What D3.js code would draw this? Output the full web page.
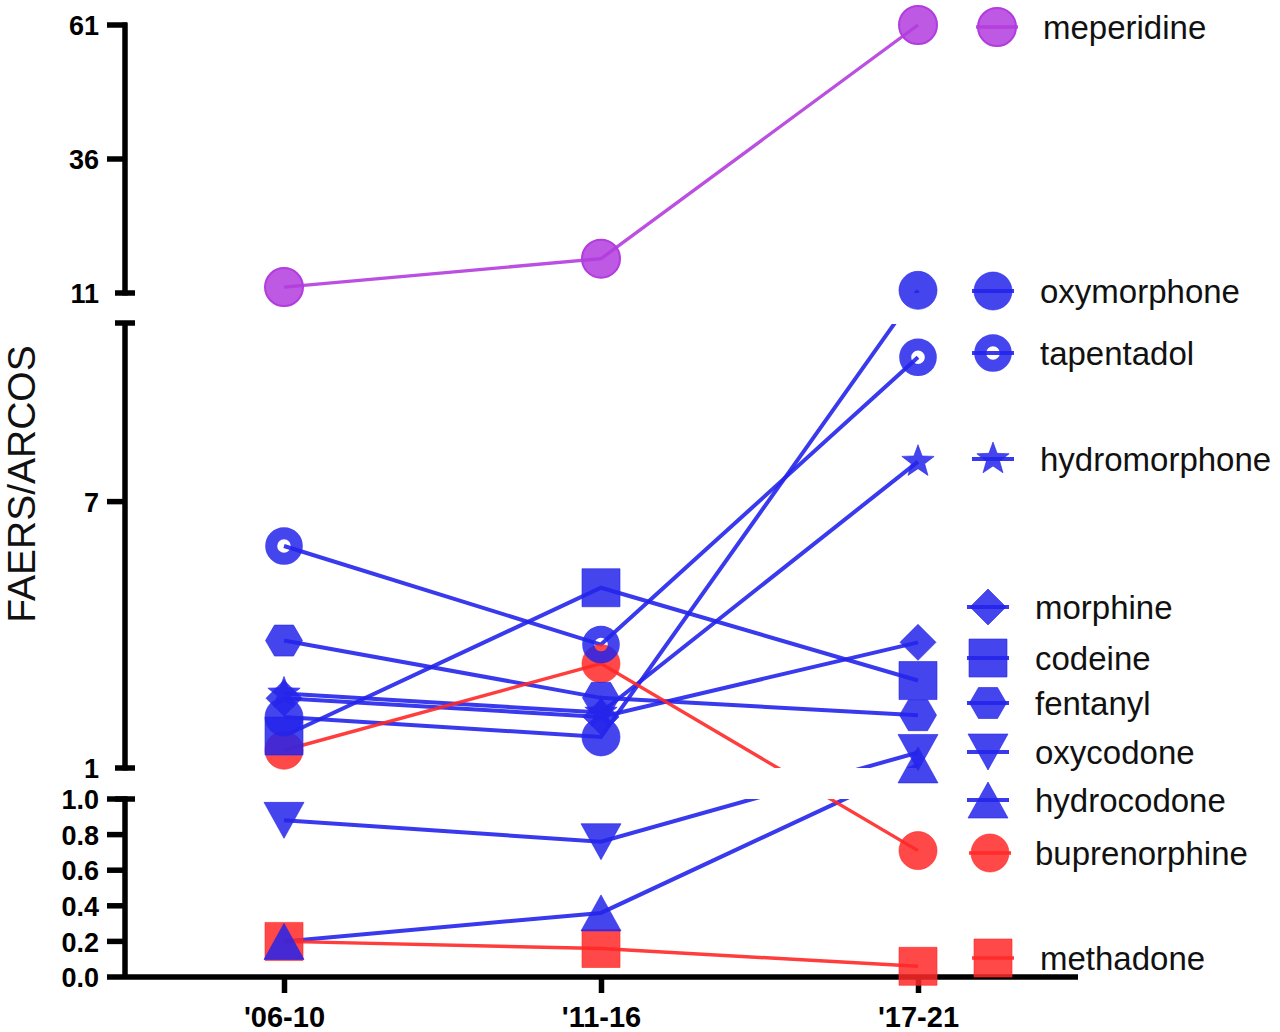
<!DOCTYPE html>
<html><head><meta charset="utf-8">
<script src="https://cdn.jsdelivr.net/npm/d3@7"></script>
<style>html,body{margin:0;padding:0;background:#fff;}svg{display:block;}</style>
</head><body>
<svg id="chart" width="1280" height="1032"></svg>
<script>
// ---------- data ----------
const categories = ["'06-10", "'11-16", "'17-21"];
const meperidine    = [12.1, 17.4, 61];
const oxymorphone   = [2.15, 1.7, 11.5];
const tapentadol    = [6.0, 3.78, 10.25];
const hydromorphone = [2.68, 2.25, 7.9];
const morphine      = [2.57, 2.15, 3.83];
const codeine       = [1.72, 5.06, 2.97];
const fentanyl      = [3.87, 2.58, 2.19];
const oxycodone     = [0.88, 0.76, 1.35];
const hydrocodone   = [0.2, 0.36, 1.07];
const buprenorphine = [1.4, 3.35, 0.71];
const methadone     = [0.2, 0.16, 0.06];
const topTicks = [11, 36, 61];
const midTicks = [1, 7];
const botTicks = [0, 0.2, 0.4, 0.6, 0.8, 1.0];

const BLUE = "rgb(36,36,235)", RED = "rgb(255,40,40)", PURPLE = "rgb(178,60,222)";
const series = [
  {name:"meperidine", values:meperidine, color:PURPLE, shape:"circle", lx:997, ly:27, tx:1043},
  {name:"oxymorphone", values:oxymorphone, color:BLUE, shape:"circle", lx:993, ly:291, tx:1040},
  {name:"tapentadol", values:tapentadol, color:BLUE, shape:"ring", lx:993, ly:353, tx:1040},
  {name:"hydromorphone", values:hydromorphone, color:BLUE, shape:"star", lx:993, ly:459, tx:1040},
  {name:"morphine", values:morphine, color:BLUE, shape:"diamond", lx:988, ly:607, tx:1035},
  {name:"codeine", values:codeine, color:BLUE, shape:"square", lx:988, ly:658, tx:1035},
  {name:"fentanyl", values:fentanyl, color:BLUE, shape:"hexagon", lx:988, ly:703, tx:1035},
  {name:"oxycodone", values:oxycodone, color:BLUE, shape:"tridown", lx:988, ly:752, tx:1035},
  {name:"hydrocodone", values:hydrocodone, color:BLUE, shape:"triup", lx:988, ly:800, tx:1035},
  {name:"buprenorphine", values:buprenorphine, color:RED, shape:"circle", lx:990, ly:853, tx:1035},
  {name:"methadone", values:methadone, color:RED, shape:"square", lx:993, ly:958, tx:1040}
];

// ---------- scales ----------
const x = d3.scalePoint().domain(categories).range([284, 918]);
const yTop = d3.scaleLinear().domain([11, 61]).range([293, 25]);
const yMid = d3.scaleLinear().domain([1, 11]).range([768, 324]);
const yBot = d3.scaleLinear().domain([0, 1]).range([977, 799]);
function yPos(v){ return v > 11 ? yTop(v) : (v >= 1 ? yMid(v) : yBot(v)); }

const svg = d3.select("#chart");
const AX = 125;
const labelFont = "'Liberation Sans', Arial, sans-serif";

// ---------- shapes ----------
function shapePath(shape){
  const p = d3.path();
  if (shape === "circle") { p.arc(0,0,19,0,2*Math.PI); p.closePath(); }
  else if (shape === "square") { p.rect(-19,-19,38,38); }
  else if (shape === "diamond") { p.moveTo(0,-18); p.lineTo(18,0); p.lineTo(0,18); p.lineTo(-18,0); p.closePath(); }
  else if (shape === "hexagon") { p.moveTo(-18.5,0); p.lineTo(-9.5,-15.5); p.lineTo(9.5,-15.5); p.lineTo(18.5,0); p.lineTo(9.5,15.5); p.lineTo(-9.5,15.5); p.closePath(); }
  else if (shape === "triup") { p.moveTo(0,-18); p.lineTo(20,18); p.lineTo(-20,18); p.closePath(); }
  else if (shape === "tridown") { p.moveTo(0,18); p.lineTo(20,-18); p.lineTo(-20,-18); p.closePath(); }
  else if (shape === "star") {
    for (let i = 0; i < 10; i++) {
      const r = i % 2 === 0 ? 17 : 7;
      const a = -Math.PI/2 + i*Math.PI/5;
      if (i === 0) p.moveTo(r*Math.cos(a), r*Math.sin(a)); else p.lineTo(r*Math.cos(a), r*Math.sin(a));
    }
    p.closePath();
  }
  return p.toString();
}
function drawMarker(g, s, cx, cy){
  if (s.shape === "ring") {
    g.append("circle").attr("cx",cx).attr("cy",cy).attr("r",12.8)
      .attr("fill","none").attr("stroke",s.color).attr("stroke-opacity",0.85).attr("stroke-width",12);
  } else {
    g.append("path").attr("d",shapePath(s.shape)).attr("transform",`translate(${cx},${cy})`)
      .attr("fill",s.color).attr("fill-opacity",0.85)
      .attr("stroke",s.color).attr("stroke-opacity", s.color===PURPLE?1:0.6).attr("stroke-width", s.color===PURPLE?2:1);
  }
}

// ---------- axes ----------
const axG = svg.append("g");
function panelAxis(scale, ticks, y0, y1){
  const g = axG.append("g").attr("transform",`translate(${AX},0)`)
    .call(d3.axisLeft(scale).tickValues(ticks).tickSize(0).tickSizeOuter(0)
      .tickFormat(d => (ticks === botTicks ? d3.format(".1f")(d) : d)).tickPadding(26));
  g.select(".domain").remove();
  g.selectAll("text").attr("font-family",labelFont).attr("font-weight","bold").attr("font-size",27).attr("fill","#000").attr("dy","0.36em");
  axG.append("line").attr("x1",AX).attr("x2",AX).attr("y1",y0).attr("y2",y1).attr("stroke","#000").attr("stroke-width",5.5);
}
panelAxis(yTop, topTicks, yTop(61)-2.5, yTop(11)+2.5);
panelAxis(yMid, midTicks, yMid(11)-3, yMid(1)+2.5);
panelAxis(yBot, botTicks, yBot(1)-2.5, yBot(0));
// ticks (left side)
const tickList = [[yTop,61],[yTop,36],[yMid,7],[yBot,1],[yBot,0.8],[yBot,0.6],[yBot,0.4],[yBot,0.2]];
tickList.forEach(([sc,v]) => axG.append("line").attr("x1",107).attr("x2",AX+2).attr("y1",sc(v)).attr("y2",sc(v)).attr("stroke","#000").attr("stroke-width",5.5));
// break caps
[yTop(11), yMid(11)-1, yMid(1), yBot(1)].forEach(yy => axG.append("line").attr("x1",115).attr("x2",135).attr("y1",yy).attr("y2",yy).attr("stroke","#000").attr("stroke-width",5.5));
// x axis
axG.append("line").attr("x1",107).attr("x2",1078).attr("y1",yBot(0)).attr("y2",yBot(0)).attr("stroke","#000").attr("stroke-width",5.5);
const xg = axG.append("g").attr("transform",`translate(0,${yBot(0)})`)
  .call(d3.axisBottom(x).tickSize(16).tickSizeOuter(0).tickPadding(13));
xg.select(".domain").remove();
xg.selectAll(".tick line").attr("stroke","#000").attr("stroke-width",5.5);
xg.selectAll("text").attr("font-family",labelFont).attr("font-weight","bold").attr("font-size",29).attr("fill","#000");

// y title
svg.append("text").attr("transform","translate(35,484) rotate(-90)").attr("text-anchor","middle")
  .attr("font-family",labelFont).attr("font-size",39).attr("fill","#111").text("FAERS/ARCOS");

// ---------- clip for lines ----------
const defs = svg.append("defs");
const cp = defs.append("clipPath").attr("id","panels");
cp.append("rect").attr("x",0).attr("y",0).attr("width",1280).attr("height",yTop(11));
cp.append("rect").attr("x",0).attr("y",yMid(11)).attr("width",1280).attr("height",yMid(1)-yMid(11));
cp.append("rect").attr("x",0).attr("y",yBot(1)).attr("width",1280).attr("height",1032-yBot(1));

// ---------- data lines & markers ----------
const line = d3.line().x((d,i) => x(categories[i])).y(d => yPos(d));
const dataG = svg.append("g");
series.forEach(s => {
  dataG.append("path").attr("d", line(s.values)).attr("clip-path","url(#panels)")
    .attr("fill","none").attr("stroke", s.color).attr("stroke-opacity",0.9)
    .attr("stroke-width", s.color===BLUE?4:3.4);
});
series.slice().reverse().forEach(s => {
  s.values.forEach((v,i) => drawMarker(dataG, s, x(categories[i]), yPos(v)));
});

// ---------- legend ----------
const lg = svg.append("g");
series.forEach(s => {
  drawMarker(lg, s, s.lx, s.ly);
  lg.append("line").attr("x1",s.lx-21).attr("x2",s.lx+21).attr("y1",s.ly).attr("y2",s.ly)
    .attr("stroke",s.color).attr("stroke-opacity",0.9).attr("stroke-width", s.color===BLUE?4:3.4);
  lg.append("text").attr("x",s.tx).attr("y",s.ly).attr("dy","0.36em")
    .attr("font-family",labelFont).attr("font-size",33).attr("fill","#111").text(s.name);
});
</script>
</body></html>
